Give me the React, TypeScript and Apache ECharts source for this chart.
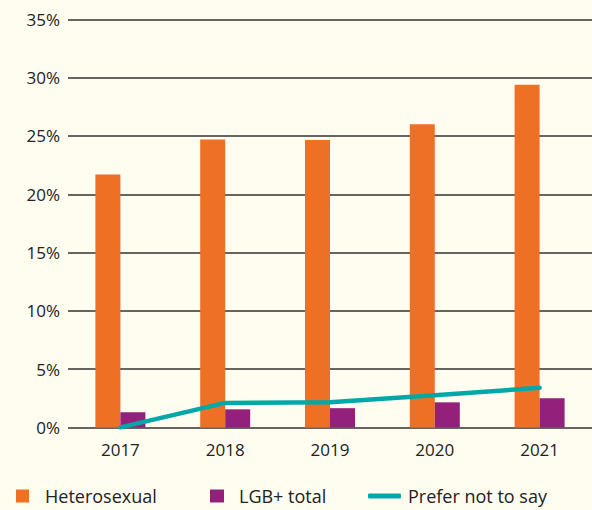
import React, { useEffect, useRef } from "react";
import * as echarts from "echarts";

const years = ["2017", "2018", "2019", "2020", "2021"];
const heterosexual = [21.7, 24.7, 24.65, 26.0, 29.4];
const lgbTotal = [1.3, 1.55, 1.65, 2.15, 2.5];
const preferNotToSay = [0.0, 2.1, 2.15, 2.75, 3.4];
const yTicks = { min: 0, max: 35, interval: 5 };

const FONT = "'Open Sans', sans-serif";
const TEXT = "#222222";
const ORANGE = "#EE7025";
const PURPLE = "#93207A";
const TEAL = "#00A8A8";
const BG = "#FFFCF0";

export default function App() {
  const ref = useRef<HTMLDivElement>(null);
  useEffect(() => {
    document.body.style.margin = "0";
    const chart = echarts.init(ref.current!, undefined, { renderer: "svg" });
    const legendBase = {
      orient: "horizontal",
      padding: 0,
      top: 487,
      selectedMode: false,
      textStyle: { fontFamily: FONT, fontSize: 18, color: TEXT },
    };
    chart.setOption({
      animation: false,
      backgroundColor: BG,
      textStyle: { fontFamily: FONT },
      grid: { left: 68, top: 19.4, width: 538, height: 408, containLabel: false },
      xAxis: {
        type: "category",
        data: years,
        axisLine: { show: false },
        axisTick: { show: false },
        axisLabel: { fontFamily: FONT, fontSize: 17, color: TEXT, margin: 14 },
      },
      yAxis: {
        type: "value",
        min: yTicks.min,
        max: yTicks.max,
        interval: yTicks.interval,
        axisLine: { show: false },
        axisTick: { show: false },
        axisLabel: {
          fontFamily: FONT,
          fontSize: 17,
          color: TEXT,
          margin: 8,
          formatter: "{value}%",
        },
        splitLine: { show: true, lineStyle: { color: "#333333", width: 1.7 } },
      },
      legend: [
        {
          ...legendBase,
          left: 16,
          data: [{ name: "Heterosexual", icon: "rect" }],
          itemWidth: 13,
          itemHeight: 13,
          textStyle: { ...legendBase.textStyle, padding: [0, 0, 0, 11] },
        },
        {
          ...legendBase,
          left: 210,
          data: [{ name: "LGB+ total", icon: "rect" }],
          itemWidth: 14,
          itemHeight: 13,
          textStyle: { ...legendBase.textStyle, padding: [0, 0, 0, 10] },
        },
        {
          ...legendBase,
          left: 368,
          data: [{ name: "Prefer not to say", icon: "roundRect" }],
          itemWidth: 33,
          itemHeight: 5,
          textStyle: { ...legendBase.textStyle, padding: [0, 0, 0, 2] },
        },
      ],
      series: [
        {
          name: "Heterosexual",
          type: "bar",
          data: heterosexual,
          barWidth: 25,
          barGap: "0%",
          itemStyle: { color: ORANGE },
        },
        {
          name: "LGB+ total",
          type: "bar",
          data: lgbTotal,
          barWidth: 25,
          barGap: "0%",
          itemStyle: { color: PURPLE },
        },
        {
          name: "Prefer not to say",
          type: "line",
          data: preferNotToSay,
          symbol: "none",
          z: 5,
          lineStyle: { color: TEAL, width: 4.5, cap: "round", join: "round" },
          itemStyle: { color: TEAL },
        },
      ],
    });
    return () => chart.dispose();
  }, []);
  return (
    <div
      ref={ref}
      style={{ position: "absolute", left: 0, top: 0, width: 592, height: 510, background: BG }}
    />
  );
}
